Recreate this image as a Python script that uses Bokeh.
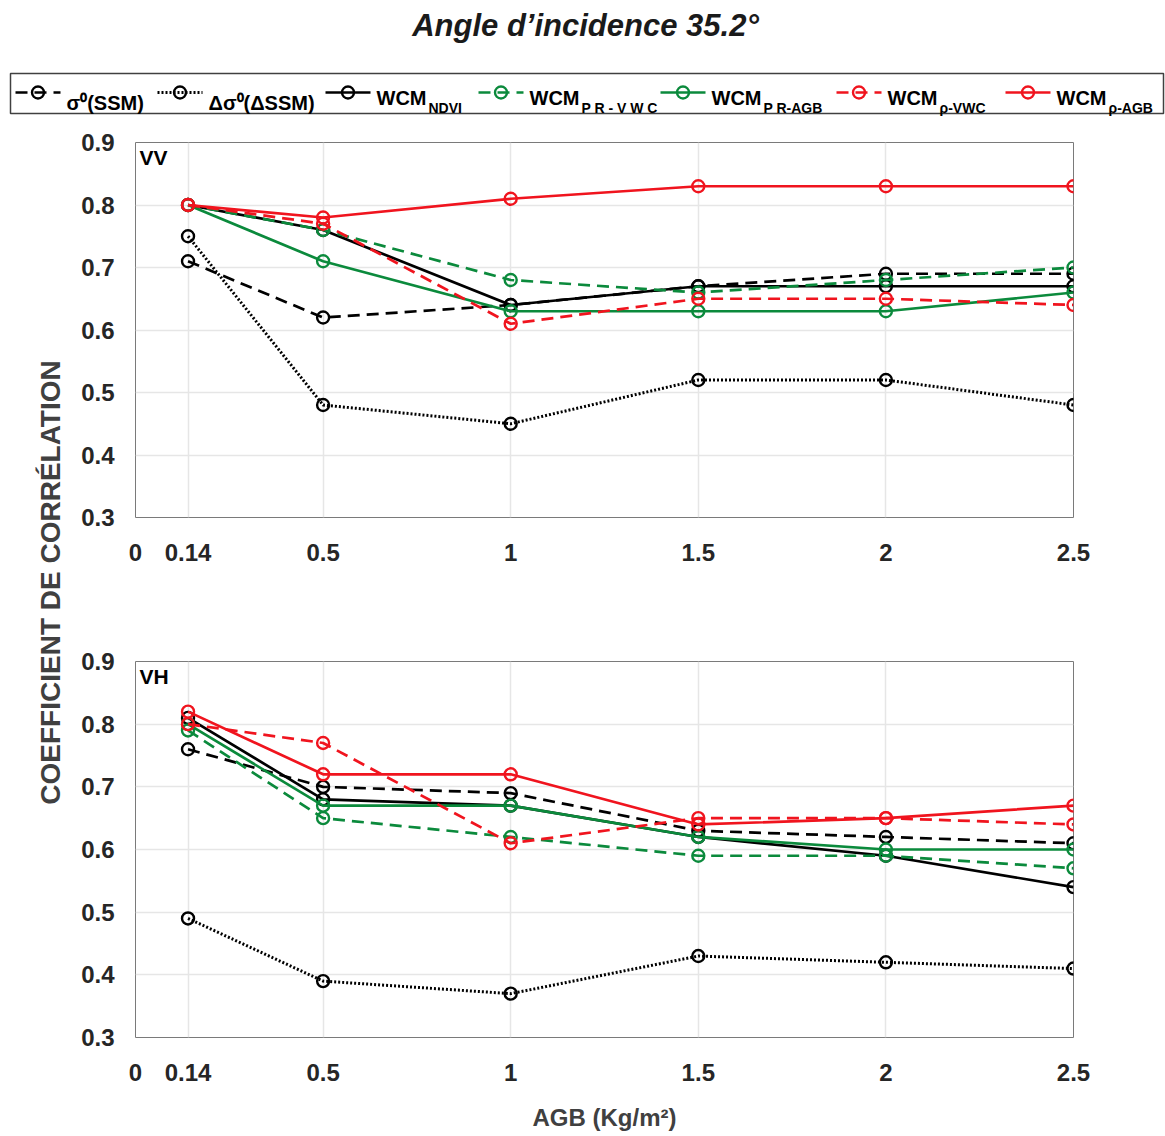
from math import pi
from bokeh.plotting import figure
from bokeh.layouts import column, row
from bokeh.models import Range1d, FixedTicker, Label
from bokeh.embed import file_html
from bokeh.resources import INLINE

# ---------------- data ----------------
agb = [0.14, 0.5, 1, 1.5, 2, 2.5]
x_ticks = [0, 0.14, 0.5, 1, 1.5, 2, 2.5]
x_tick_labels = ["0", "0.14", "0.5", "1", "1.5", "2", "2.5"]
y_ticks = [0.3, 0.4, 0.5, 0.6, 0.7, 0.8, 0.9]

vv_sigma0 = [0.71, 0.62, 0.64, 0.67, 0.69, 0.69]
vv_delta_sigma0 = [0.75, 0.48, 0.45, 0.52, 0.52, 0.48]
vv_wcm_ndvi = [0.80, 0.76, 0.64, 0.67, 0.67, 0.67]
vv_wcm_pr_vwc = [0.80, 0.76, 0.68, 0.66, 0.68, 0.70]
vv_wcm_pr_agb = [0.80, 0.71, 0.63, 0.63, 0.63, 0.66]
vv_wcm_rho_vwc = [0.80, 0.77, 0.61, 0.65, 0.65, 0.64]
vv_wcm_rho_agb = [0.80, 0.78, 0.81, 0.83, 0.83, 0.83]

vh_sigma0 = [0.76, 0.70, 0.69, 0.63, 0.62, 0.61]
vh_delta_sigma0 = [0.49, 0.39, 0.37, 0.43, 0.42, 0.41]
vh_wcm_ndvi = [0.81, 0.68, 0.67, 0.62, 0.59, 0.54]
vh_wcm_pr_vwc = [0.79, 0.65, 0.62, 0.59, 0.59, 0.57]
vh_wcm_pr_agb = [0.80, 0.67, 0.67, 0.62, 0.60, 0.60]
vh_wcm_rho_vwc = [0.80, 0.77, 0.61, 0.65, 0.65, 0.64]
vh_wcm_rho_agb = [0.82, 0.72, 0.72, 0.64, 0.65, 0.67]

legend_main = ["σ⁰(SSM)", "Δσ⁰(ΔSSM)", "WCM", "WCM", "WCM", "WCM", "WCM"]
legend_sub = ["", "", "NDVI", "P R - V W C", "P R-AGB", "ρ-VWC", "ρ-AGB"]

# ---------------- styles ----------------
BLACK = "#000000"
GREEN = "#0b8a3c"
RED = "#f0141e"
DASH = "12 7"
DOT = "2 2"
styles = [
    (BLACK, DASH, 2.7),
    (BLACK, DOT, 3.0),
    (BLACK, "solid", 2.7),
    (GREEN, DASH, 2.7),
    (GREEN, "solid", 2.7),
    (RED, DASH, 2.7),
    (RED, "solid", 2.7),
]
FONT = "Liberation Sans"
MSIZE = 12

vv_series = [vv_sigma0, vv_delta_sigma0, vv_wcm_ndvi, vv_wcm_pr_vwc,
             vv_wcm_pr_agb, vv_wcm_rho_vwc, vv_wcm_rho_agb]
vh_series = [vh_sigma0, vh_delta_sigma0, vh_wcm_ndvi, vh_wcm_pr_vwc,
             vh_wcm_pr_agb, vh_wcm_rho_vwc, vh_wcm_rho_agb]


def make_panel(tag, series, height, top, bottom, xlabel=None):
    p = figure(width=1095, height=height,
               x_range=Range1d(0, 2.5), y_range=Range1d(0.3, 0.9),
               output_backend="svg", toolbar_location=None,
               min_border_left=65, min_border_right=92,
               min_border_top=top, min_border_bottom=bottom)
    p.outline_line_color = "#7a7a7a"
    p.outline_line_width = 1
    p.xaxis.ticker = FixedTicker(ticks=x_ticks)
    p.yaxis.ticker = FixedTicker(ticks=y_ticks)
    p.xaxis.major_label_overrides = {t: s for t, s in zip(x_ticks, x_tick_labels)}
    for ax in p.axis:
        ax.axis_line_color = None
        ax.major_tick_line_color = None
        ax.minor_tick_line_color = None
        ax.major_label_text_font = FONT
        ax.major_label_text_font_style = "bold"
        ax.major_label_text_font_size = "24px"
        ax.major_label_text_color = "#262626"
    p.xaxis.major_label_standoff = 20
    p.yaxis.major_label_standoff = 15
    p.grid.grid_line_color = "#e6e6e6"
    p.grid.grid_line_width = 1.5
    if xlabel:
        p.xaxis.axis_label = xlabel
        p.xaxis.axis_label_text_font = FONT
        p.xaxis.axis_label_text_font_style = "bold"
        p.xaxis.axis_label_text_font_size = "24px"
        p.xaxis.axis_label_text_color = "#404040"
        p.xaxis.axis_label_standoff = 20
    for vals, (c, d, w) in zip(series, styles):
        p.line(agb, vals, line_color=c, line_width=w, line_dash=d)
        p.scatter(agb, vals, marker="circle", size=MSIZE, fill_color=None,
                  line_color=c, line_width=2.4)
    p.add_layout(Label(x=0, y=0.9, x_offset=4, y_offset=-3, text=tag,
                       text_baseline="top", text_font=FONT,
                       text_font_style="bold", text_font_size="21px",
                       text_color="#000000"))
    return p


vv = make_panel("VV", vv_series, 522, 24, 123)
vh = make_panel("VH", vh_series, 496, 21, 99, xlabel="AGB (Kg/m²)")

# ---------------- y label column ----------------
ylab = figure(width=70, height=1018, x_range=Range1d(0, 70), y_range=Range1d(0, 1018),
              output_backend="svg", toolbar_location=None, min_border=0,
              x_axis_location=None, y_axis_location=None, outline_line_color=None)
ylab.grid.visible = False
ylab.add_layout(Label(x=50, y=554, angle=pi / 2, text="COEFFICIENT DE CORRÉLATION",
                      text_align="center", text_baseline="middle", text_font=FONT,
                      text_font_style="bold", text_font_size="28px",
                      text_color="#404040"))

# ---------------- header: title + legend ----------------
header = figure(width=1165, height=118, x_range=Range1d(0, 1165), y_range=Range1d(0, 118),
                output_backend="svg", toolbar_location=None, min_border=0,
                x_axis_location=None, y_axis_location=None, outline_line_color=None)
header.grid.visible = False
header.add_layout(Label(x=585, y=93, text="Angle d’incidence 35.2°",
                        text_align="center", text_baseline="middle", text_font=FONT,
                        text_font_style="bold italic", text_font_size="31px",
                        text_color="#1a1a1a"))
header.quad(left=10, right=1163, bottom=5, top=45, fill_color="white",
            line_color="#404040", line_width=1.5)

item_x = [15, 157, 325, 478, 660, 836, 1005]
LINE_Y = 26
for x0, (c, d, w), main, sub in zip(item_x, styles, legend_main, legend_sub):
    header.line([x0, x0 + 45], [LINE_Y, LINE_Y], line_color=c, line_width=w, line_dash=d)
    header.scatter([x0 + 22.5], [LINE_Y], marker="circle", size=MSIZE, fill_color=None,
                   line_color=c, line_width=2.4)
    header.add_layout(Label(x=x0 + 51, y=(21 if sub else 16), text=main,
                            text_baseline="alphabetic",
                            text_font=FONT, text_font_style="bold",
                            text_font_size="20px", text_color="#000000"))
    if sub:
        header.add_layout(Label(x=x0 + 103, y=11, text=sub, text_baseline="alphabetic",
                                text_font=FONT, text_font_style="bold",
                                text_font_size="14px", text_color="#000000"))

layout = column(header, row(ylab, column(vv, vh)))
open("out.html", "w").write(file_html(layout, INLINE))
